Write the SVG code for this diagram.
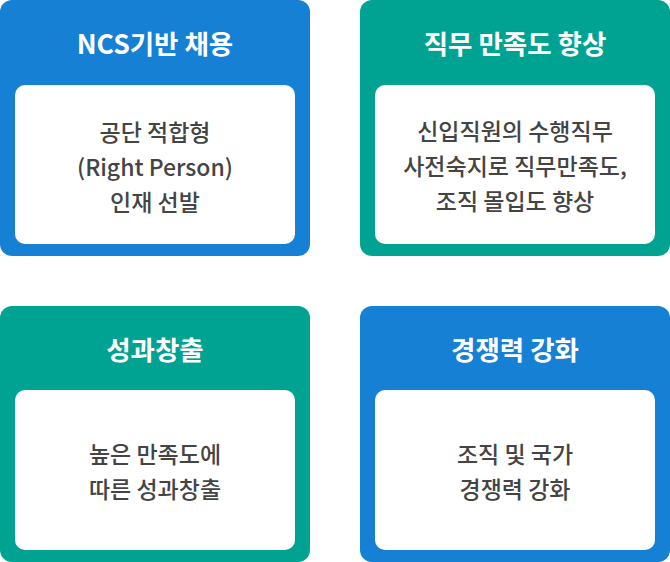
<svg xmlns="http://www.w3.org/2000/svg" width="670" height="562" viewBox="0 0 670 562">
<style>
.blue{fill:#1680d5}
.teal{fill:#00a391}
.inner{fill:#ffffff}
.title{font-family:"Noto Sans CJK KR","Noto Sans",sans-serif;font-weight:700;font-size:26.5px;fill:#ffffff;text-anchor:middle}
.body{font-family:"Noto Sans CJK KR","Noto Sans",sans-serif;font-weight:500;font-size:23px;fill:#444444;text-anchor:middle}
</style>
<rect width="670" height="562" fill="#ffffff"/>
<g id="node-ncs">
<rect class="blue" x="0" y="0" width="310" height="256" rx="12"/>
<rect class="inner" x="15" y="85" width="280" height="159" rx="10"/>
<text class="title" x="155" y="54">NCS기반 채용</text>
<text class="body" x="155" y="141">공단 적합형</text>
<text class="body" x="155" y="176">(Right Person)</text>
<text class="body" x="155" y="211">인재 선발</text>
</g>
<g id="node-satisfaction">
<rect class="teal" x="360" y="0" width="310" height="256" rx="12"/>
<rect class="inner" x="375" y="85" width="280" height="159" rx="10"/>
<text class="title" x="515" y="54">직무 만족도 향상</text>
<text class="body" x="515" y="140">신입직원의 수행직무</text>
<text class="body" x="515" y="175">사전숙지로 직무만족도,</text>
<text class="body" x="515" y="210">조직 몰입도 향상</text>
</g>
<g id="node-performance">
<rect class="teal" x="0" y="306" width="310" height="256" rx="12"/>
<rect class="inner" x="15" y="390" width="280" height="160" rx="10"/>
<text class="title" x="155" y="360">성과창출</text>
<text class="body" x="155" y="463">높은 만족도에</text>
<text class="body" x="155" y="498">따른 성과창출</text>
</g>
<g id="node-competitiveness">
<rect class="blue" x="360" y="306" width="310" height="256" rx="12"/>
<rect class="inner" x="375" y="390" width="280" height="160" rx="10"/>
<text class="title" x="515" y="360">경쟁력 강화</text>
<text class="body" x="515" y="463">조직 및 국가</text>
<text class="body" x="515" y="498">경쟁력 강화</text>
</g>
<g id="connectors"></g>
</svg>
